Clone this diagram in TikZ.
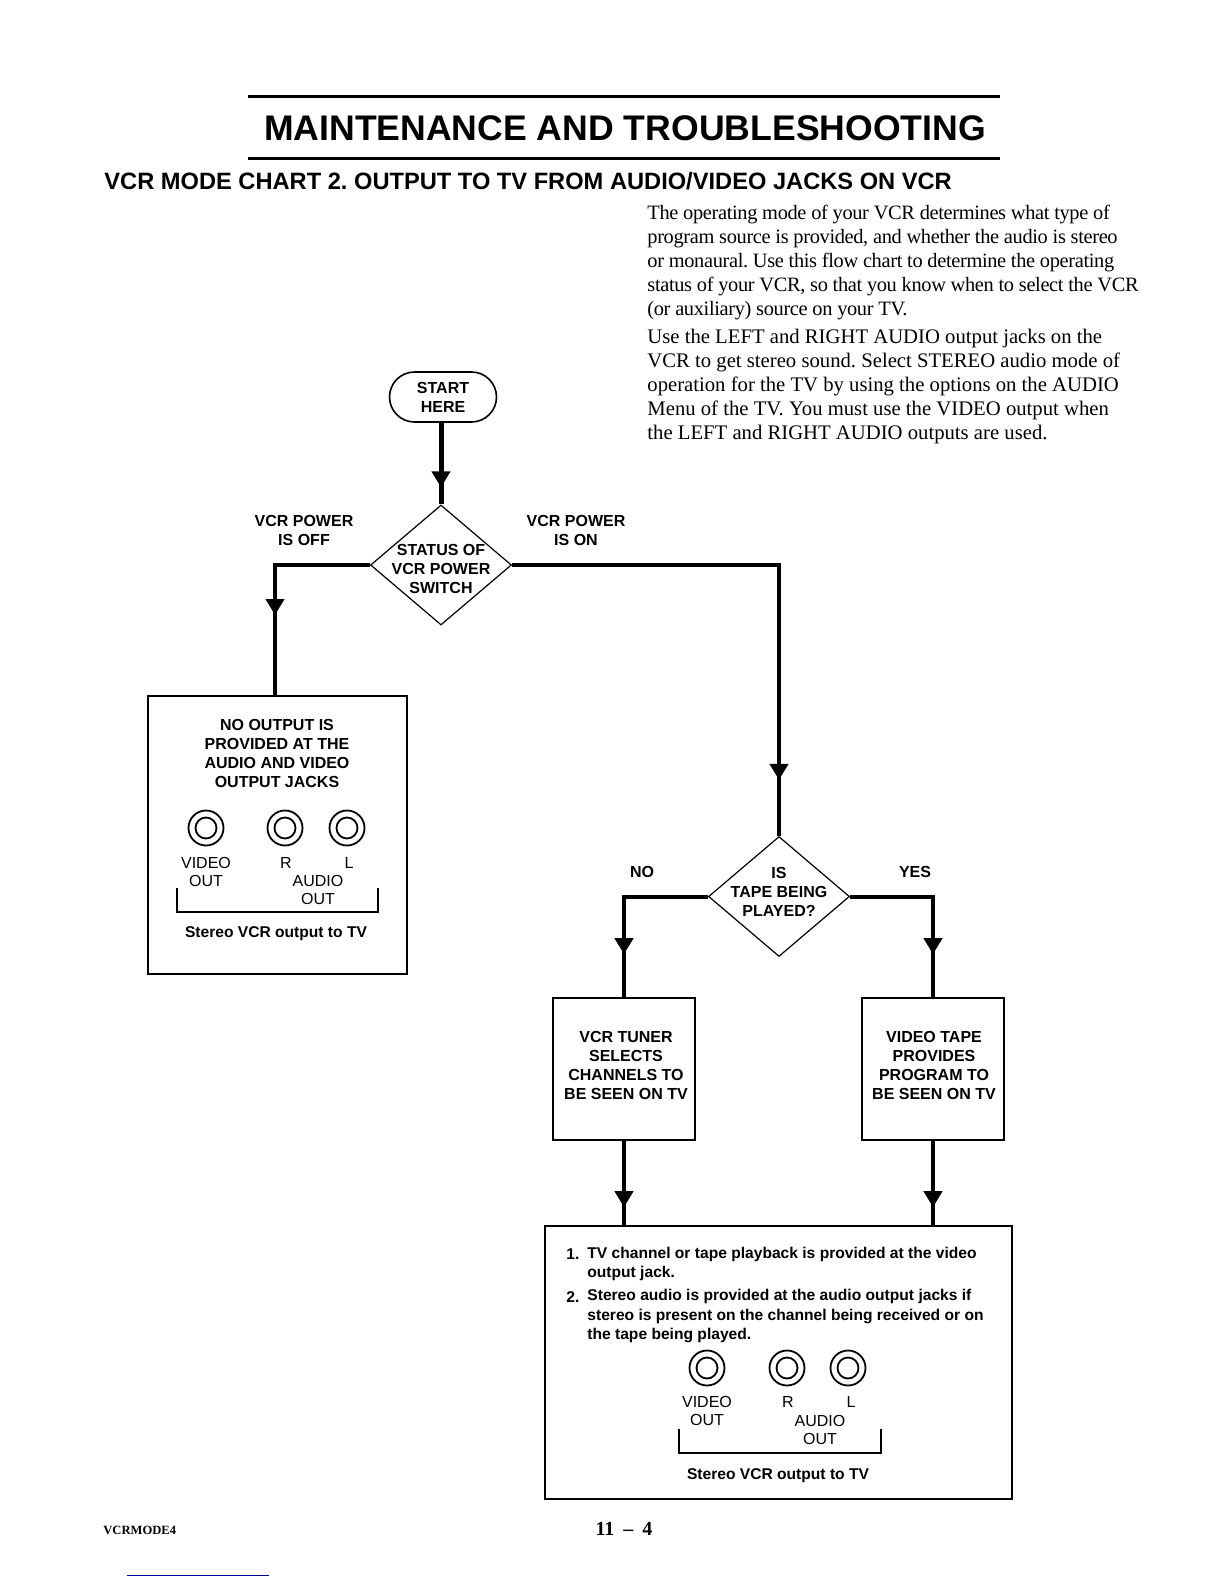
\documentclass[tikz,border=0pt]{standalone}
\usepackage{fontspec}
\setmainfont{Liberation Serif}
\setsansfont{Liberation Sans}
\usetikzlibrary{arrows.meta,shapes.geometric,decorations.markings}

\begin{document}
\frenchspacing
\begin{tikzpicture}[x=0.5pt, y=-0.5pt,
	lbl/.style={font=\sffamily\bfseries\fontsize{8}{9.5}\selectfont, align=center, inner sep=0pt},
	jacklbl/.style={font=\sffamily\fontsize{8}{9}\selectfont, align=center, inner sep=0pt},
	note/.style={font=\sffamily\bfseries\fontsize{7.8}{9.7}\selectfont, align=left, inner sep=0pt, anchor=west},
	para/.style={align=left, inner sep=0pt, anchor=west},
	stepbox/.style={draw, line width=0.8pt, minimum width=71pt, minimum height=71pt, inner sep=0pt},
	decision/.style={draw, diamond, line width=0.6pt, minimum width=70.5pt, minimum height=60pt, inner sep=0pt},
	jack/.style={draw, circle, line width=0.9pt, minimum size=17.5pt, inner sep=0pt},
	jackin/.style={draw, circle, line width=0.9pt, minimum size=10.5pt, inner sep=0pt},
	flow/.style={line width=2pt},
	tipat/.style={postaction={decorate, decoration={markings, mark=at position #1 with {\arrow{Triangle[length=8pt,width=9pt]}}}}}]
	\useasboundingbox (0,0) rectangle (1224,1584);
	% heading
	\draw[line width=1.5pt] (248,97) -- (1000,97);
	\draw[line width=1.5pt] (248,158) -- (1000,158);
	\node[font=\sffamily\bfseries\fontsize{17.8}{20}\selectfont, inner sep=0pt] (TITLE) at (625,128) {MAINTENANCE AND TROUBLESHOOTING};
	\node[font=\sffamily\bfseries\fontsize{11.83}{14}\selectfont, inner sep=0pt, anchor=west] (CHART) at (104,181) {VCR MODE CHART 2. OUTPUT TO TV FROM AUDIO/VIDEO JACKS ON VCR};
	\node[para, font=\fontsize{10.2}{12}\selectfont\addfontfeature{LetterSpace=-1.7}] (P1) at (647,262.5) {The operating mode of your VCR determines what type of\\program source is provided, and whether the audio is stereo\\or monaural. Use this flow chart to determine the operating\\status of your VCR, so that you know when to select the VCR\\(or auxiliary) source on your TV.};
	\node[para, font=\fontsize{10.35}{12}\selectfont] (P2) at (647,387) {Use the LEFT and RIGHT AUDIO output jacks on the\\VCR to get stereo sound. Select STEREO audio mode of\\operation for the TV by using the options on the AUDIO\\Menu of the TV. You must use the VIDEO output when\\the LEFT and RIGHT AUDIO outputs are used.};
	% flow chart
	\node[draw, line width=0.8pt, rounded corners=12.5pt, minimum width=53.5pt, minimum height=25pt, inner sep=0pt, lbl] (START) at (443,397) {START\\HERE};
	\node[decision] (POWER) at (441,565) {};
	\node[lbl] (POWERTXT) at (441,568.5) {STATUS OF\\VCR POWER\\SWITCH};
	\node[lbl] (OFF) at (304,530) {VCR POWER\\IS OFF};
	\node[lbl] (ON) at (576,530) {VCR POWER\\IS ON};
	\node[draw, line width=0.8pt, minimum width=129.5pt, minimum height=139pt, inner sep=0pt] (NOOUT) at (277.5,835) {};
	\node[lbl] (NOOUTTXT) at (277,753.5) {NO OUTPUT IS\\PROVIDED AT THE\\AUDIO AND VIDEO\\OUTPUT JACKS};
	\coordinate (NOOUTTOP) at (275,696);
	\node[decision] (TAPE) at (779,896.5) {};
	\node[lbl] (TAPETXT) at (779,892) {IS\\TAPE BEING\\PLAYED?};
	\node[lbl] (NO) at (642,872) {NO};
	\node[lbl] (YES) at (915,872) {YES};
	\node[stepbox] (TUNER) at (624,1069) {};
	\node[lbl] (TUNERTXT) at (626,1065.5) {VCR TUNER\\SELECTS\\CHANNELS TO\\BE SEEN ON TV};
	\node[stepbox] (PLAY) at (933,1069) {};
	\node[lbl] (PLAYTXT) at (934,1065.5) {VIDEO TAPE\\PROVIDES\\PROGRAM TO\\BE SEEN ON TV};
	\node[draw, line width=0.8pt, minimum width=233.5pt, minimum height=136.5pt, inner sep=0pt] (RESULT) at (778.5,1362.5) {};
	\draw[flow, line width=2.5pt, tipat=-8.5pt] (START.south -| POWER.north) -- (POWER.north);
	\draw[flow, tipat=-40.5pt] (POWER.west) -| (NOOUTTOP);
	\draw[flow, tipat=-28pt] (POWER.east) -| (TAPE.north);
	\draw[flow, tipat=-21.5pt] (TAPE.west) -| (TUNER.north);
	\draw[flow, tipat=-21.5pt] (TAPE.east) -| (PLAY.north);
	\draw[flow, tipat=-9pt] (TUNER.south) -- (TUNER.south |- RESULT.north);
	\draw[flow, tipat=-9pt] (PLAY.south) -- (PLAY.south |- RESULT.north);
	% jacks of the left box
	\node[jack] (VA) at (206,828) {};
	\node[jackin] (VB) at (206,828) {};
	\node[jack] (RA) at (285,828) {};
	\node[jackin] (RB) at (285,828) {};
	\node[jack] (LA) at (347,828) {};
	\node[jackin] (LB) at (347,828) {};
	\node[jacklbl] (VL) at (206,872) {VIDEO\\OUT};
	\node[jacklbl] (RL) at (286,863) {R};
	\node[jacklbl] (LL) at (349,863) {L};
	\node[jacklbl] (AL) at (318,890) {AUDIO\\OUT};
	\draw[line width=0.6pt] (177,888) -- (177,912) -- (378,912) -- (378,888);
	\node[lbl, font=\sffamily\bfseries\fontsize{7.8}{9}\selectfont] (CAPA) at (276,933.5) {Stereo VCR output to TV};
	% text and jacks of the lower box
	\node[note] (N1) at (566,1254) {1.};
	\node[note] (T1) at (587,1264) {TV channel or tape playback is provided at the video\\output jack.};
	\node[note] (N2) at (566,1297) {2.};
	\node[note] (T2) at (587,1316) {Stereo audio is provided at the audio output jacks if\\stereo is present on the channel being received or on\\the tape being played.};
	\node[jack] (VC) at (707,1368) {};
	\node[jackin] (VD) at (707,1368) {};
	\node[jack] (RC) at (787,1368) {};
	\node[jackin] (RD) at (787,1368) {};
	\node[jack] (LC) at (848,1368) {};
	\node[jackin] (LD) at (848,1368) {};
	\node[jacklbl] (VM) at (707,1411) {VIDEO\\OUT};
	\node[jacklbl] (RM) at (788,1402) {R};
	\node[jacklbl] (LM) at (851,1402) {L};
	\node[jacklbl] (AM) at (820,1430) {AUDIO\\OUT};
	\draw[line width=0.6pt] (679,1429) -- (679,1453) -- (881,1453) -- (881,1429);
	\node[lbl, font=\sffamily\bfseries\fontsize{7.8}{9}\selectfont] (CAPB) at (778,1475.5) {Stereo VCR output to TV};
	% foot of the page
	\node[font=\bfseries\fontsize{6.3}{8}\selectfont, inner sep=0pt, anchor=west] (CODE) at (103,1530) {VCRMODE4};
	\node[font=\bfseries\fontsize{10}{12}\selectfont, inner sep=0pt] (PAGE) at (624,1529) {11\hspace{0.45em}--\hspace{0.45em}4};
	\draw[line width=0.5pt, blue!60!black] (127,1575) -- (269,1575);
\end{tikzpicture}
\end{document}
